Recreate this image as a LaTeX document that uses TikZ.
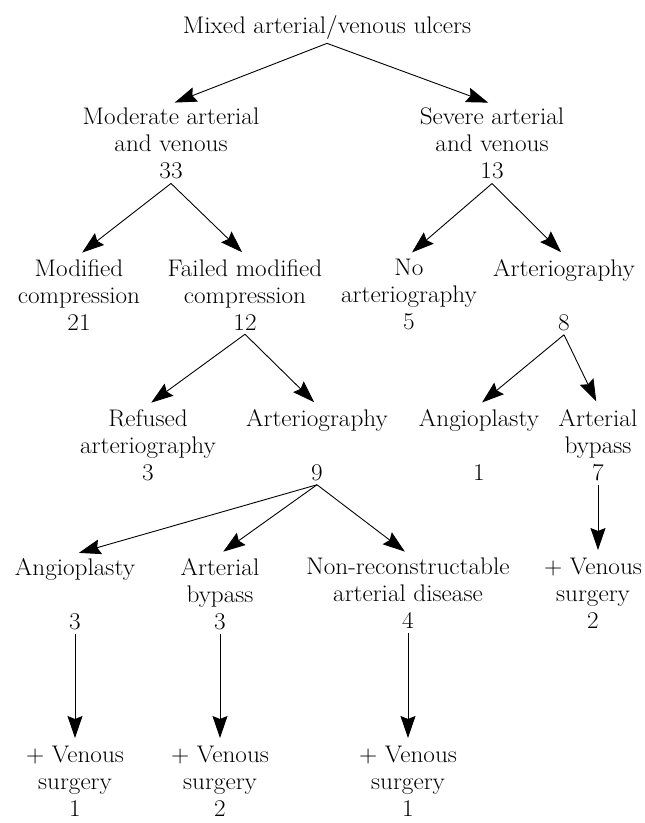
\documentclass[tikz,border=0pt]{standalone}
\usepackage{fontspec}
\setmainfont{Latin Modern Roman}[FakeStretch=1.05]
\usetikzlibrary{arrows.meta}
\tikzset{
  lbl/.style={align=center, inner sep=4pt, anchor=north,
              font=\fontsize{24}{27}\selectfont},
  flow/.style={-{Stealth[length=22pt, width=15pt, inset=3pt]}, line width=0.9pt,
               shorten >=4pt},
}

\begin{document}
\begin{tikzpicture}[x=1pt, y=-1pt]
  \useasboundingbox (0,0) rectangle (645,823);
  % top
  \node (mixed) [lbl] at (327,11) {Mixed arterial/venous ulcers};
  \node (mod) [lbl] at (171,104) {Moderate arterial\\and venous\\33};
  \node (sev) [lbl] at (492,104) {Severe arterial\\and venous\\13};
  % second row
  \node (modc) [lbl] at (79,255) {Modified\\compression\\21};
  \node (fail) [lbl] at (245,255) {Failed modified\\compression\\12};
  \node (noart) [lbl] at (409,255) {No\\arteriography\\5};
  \node (art) [lbl] at (564,255) {Arteriography\\[27pt]8};
  % third row
  \node (ref) [lbl] at (148,405) {Refused\\arteriography\\3};
  \node (art2) [lbl] at (317,405) {Arteriography\\[27pt]9};
  \node (angio) [lbl] at (479,405) {Angioplasty\\[27pt]1};
  \node (byp) [lbl] at (598,405) {Arterial\\bypass\\7};
  % fourth row
  \node (angio2) [lbl] at (75,554) {Angioplasty\\[27pt]3};
  \node (byp2) [lbl] at (220,554) {Arterial\\bypass\\3};
  \node (nonrec) [lbl] at (408,554) {Non-reconstructable\\arterial disease\\4};
  \node (ven) [lbl] at (593,554) {+ Venous\\surgery\\2};
  % bottom
  \node (ven1) [lbl] at (75,742) {+ Venous\\surgery\\1};
  \node (ven2) [lbl] at (220,742) {+ Venous\\surgery\\2};
  \node (ven3) [lbl] at (408,742) {+ Venous\\surgery\\1};

  \draw[flow] (mixed.south) -- (mod.north);
  \draw[flow] (mixed.south) -- (sev.north);
  \draw[flow] (mod.south) -- (modc.north);
  \draw[flow] (mod.south) -- (fail.north);
  \draw[flow] (sev.south) -- (noart.north);
  \draw[flow] (sev.south) -- (art.north);
  \draw[flow] (fail.south) -- (ref.north);
  \draw[flow] (fail.south) -- (art2.north);
  \draw[flow] (art.south) -- (angio.north);
  \draw[flow] (art.south) -- (byp.north);
  \draw[flow] (art2.south) -- (angio2.north);
  \draw[flow] (art2.south) -- (byp2.north);
  \draw[flow] (art2.south) -- (nonrec.north);
  \draw[flow] (byp.south) -- (byp.south |- ven.north);
  \draw[flow] (angio2.south) -- (ven1.north);
  \draw[flow] (byp2.south) -- (ven2.north);
  \draw[flow] (nonrec.south) -- (ven3.north);
\end{tikzpicture}
\end{document}
